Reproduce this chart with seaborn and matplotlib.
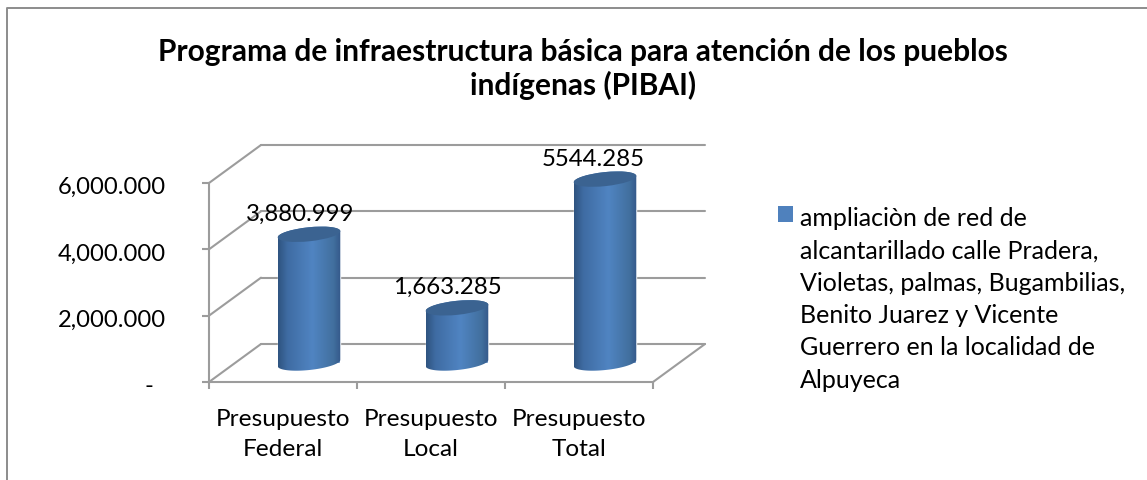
import matplotlib
matplotlib.use("Agg")
import matplotlib.pyplot as plt
import numpy as np
import pandas as pd
import seaborn as sns
from matplotlib.colors import LinearSegmentedColormap
from matplotlib.lines import Line2D
from matplotlib.patches import Ellipse, Patch, PathPatch
from matplotlib.path import Path
from matplotlib.transforms import IdentityTransform, ScaledTranslation

titulo = "Programa de infraestructura básica para atención de los pueblos\nindígenas (PIBAI)"
categorias = ["Presupuesto\nFederal", "Presupuesto\nLocal", "Presupuesto\nTotal"]
valores = [3880.999, 1663.285, 5544.285]
etiquetas = ["3,880.999", "1,663.285", "5544.285"]
yticks = [0, 2000, 4000, 6000]
ytick_labels = ["-", "2,000.000", "4,000.000", "6,000.000"]
leyenda = ("ampliaciòn de red de\nalcantarillado calle Pradera,\nVioletas, palmas, Bugambilias,\n"
           "Benito Juarez y Vicente\nGuerrero en la localidad de\nAlpuyeca")

W, H = 1147, 480
GRIS = "#9c9c9c"
AZUL = "#4f81bd"
FUENTE = "Lato"

sns.set_theme(style="white")
plt.rcParams["font.family"] = [FUENTE, "DejaVu Sans"]

fig = plt.figure(figsize=(W / 100, H / 100), dpi=100, facecolor="white")


def eje_px(x0, y0, x1, y1):
    # caja en pixeles, con y desde arriba
    return fig.add_axes([x0 / W, 1 - y1 / H, (x1 - x0) / W, (y1 - y0) / H])


# plano frontal
L, R, T, B = 209, 653, 183, 382
DX, DY = 52, 38  # profundidad en pixeles

ax = eje_px(L, T, R, B)
ax.set_xlim(-0.5, 2.5)
ax.set_ylim(0, 6000)
ux = DX / ((R - L) / 3)
uy = DY / ((B - T) / 6000)

for v in yticks:
    ax.plot([-0.5, -0.5 + ux], [v, v + uy], color=GRIS, lw=1.5, clip_on=False)
    ax.plot([-0.5 + ux, 2.5 + ux], [v + uy, v + uy], color=GRIS, lw=1.5, clip_on=False)
ax.plot([2.5, 2.5 + ux], [0, uy], color=GRIS, lw=1.5, clip_on=False)

sns.despine(ax=ax)
for s in ["left", "bottom"]:
    ax.spines[s].set_color(GRIS)
    ax.spines[s].set_linewidth(1.5)
ax.set_xticks([0, 1, 2])
ax.set_xticklabels(categorias, fontsize=17.6, color="black", linespacing=1.53)
ax.set_xticks([-0.5, 0.5, 1.5, 2.5], minor=True)
ax.set_yticks(yticks)
ax.set_yticklabels(ytick_labels, fontsize=17.1, color="black")
ax.tick_params(axis="x", which="major", length=0, pad=19.5)
ax.tick_params(axis="x", which="minor", length=5, width=1.5, color=GRIS, direction="out", bottom=True)
ax.tick_params(axis="y", length=5, width=1.5, color=GRIS, direction="out", left=True, pad=26)
ax.yaxis.get_major_ticks()[0].set_pad(35)
for tick in ax.yaxis.get_major_ticks():
    tick.label1.set_transform(tick.label1.get_transform() + ScaledTranslation(0, -2 / 72, fig.dpi_scale_trans))

# barras a media profundidad
ax2 = eje_px(L + DX / 2, T - DY / 2, R + DX / 2, B - DY / 2)
ax2.patch.set_alpha(0)
df = pd.DataFrame({"categoria": categorias, "valor": valores})
sns.barplot(data=df, x="categoria", y="valor", color=AZUL, width=0.425, saturation=1, ax=ax2)
ax2.set_xlim(-0.5, 2.5)
ax2.set_ylim(0, 6000)
ax2.axis("off")
fig.canvas.draw()

cmap = LinearSegmentedColormap.from_list(
    "cil", [(0, "#2f5480"), (0.15, "#3f6ca3"), (0.55, "#5084c2"), (0.88, "#42709f"), (1, "#34598a")]
)
grad = np.linspace(0, 1, 128).reshape(1, -1)
ANG = 6
t = np.radians(ANG)


def arco(cx, cy, a, b, ini, fin):
    th = np.radians(np.linspace(ini, fin, 60))
    x = a * np.cos(th)
    y = b * np.sin(th)
    return np.c_[cx + x * np.cos(t) - y * np.sin(t), cy + x * np.sin(t) + y * np.cos(t)]


for bar, et, dx_lab in zip(ax2.patches, etiquetas, [-9, -10, -12]):
    x0, x1 = bar.get_x(), bar.get_x() + bar.get_width()
    (px0, py0), (px1, py1) = ax2.transData.transform([(x0, 0), (x1, bar.get_height())])
    cx = (px0 + px1) / 2
    a = (px1 - px0) / 2
    b = 7.0
    cuerpo = np.vstack([arco(cx, py0, a, b, 180, 360), arco(cx, py1, a, b, 0, 180)])
    clip = PathPatch(Path(np.vstack([cuerpo, cuerpo[0]]), closed=True), transform=IdentityTransform(),
                     facecolor="none", edgecolor="none")
    ax2.add_patch(clip)
    im = ax2.imshow(grad, cmap=cmap, aspect="auto", extent=(x0, x1, -1000, 7000), zorder=3)
    im.set_clip_box(fig.bbox)
    im.set_clip_path(clip)
    ax2.add_patch(Ellipse((cx, py1), 2 * a, 2 * b, angle=ANG, transform=IdentityTransform(),
                          facecolor="#3b6391", edgecolor="none", zorder=4, clip_on=False))
    ax2.annotate(et, (cx, py1), xycoords=IdentityTransform(), xytext=(dx_lab, 20), textcoords="offset pixels",
                 ha="center", va="center", fontsize=17.3, color="black", zorder=5, annotation_clip=False)
ax2.set_xlim(-0.5, 2.5)
ax2.set_ylim(0, 6000)

fig.text(583 / W, 1 - 69 / H, titulo, ha="center", va="center", fontsize=21.5, fontweight="bold",
         color="black", linespacing=1.2)

leg = fig.legend(handles=[Patch(facecolor=AZUL, edgecolor="none", label=leyenda)], loc="upper left",
                 bbox_to_anchor=(778 / W, 1 - 207 / H), frameon=False, fontsize=18, labelspacing=0,
                 handlelength=0.6, handleheight=0.6, handletextpad=0.28, borderpad=0, borderaxespad=0)
for txt in leg.get_texts():
    txt.set_linespacing(1.49)
    txt.set_color("black")
leg.legend_handles[0].set_y(62.6)

# borde del grafico, solo arriba e izquierda se ven en el recorte
fig.add_artist(Line2D([7 / W, 7 / W, 1], [0, 1 - 7.5 / H, 1 - 7.5 / H], color="#8c8c8c", lw=1.4))

fig.savefig("out.png", dpi=100, facecolor="white")
